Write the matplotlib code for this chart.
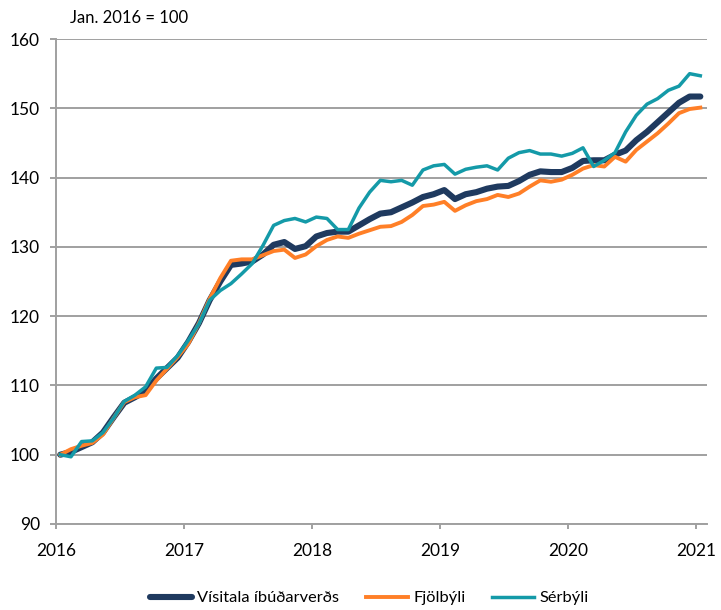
import matplotlib
matplotlib.use("Agg")
import matplotlib.pyplot as plt
import numpy as np

plt.rcParams['font.family'] = ['Lato', 'DejaVu Sans']

year_labels = ["2016", "2017", "2018", "2019", "2020", "2021"]
y_ticks = [90, 100, 110, 120, 130, 140, 150, 160]

visitala = [
    100.0, 100.4, 101.1, 101.8, 103.2, 105.4, 107.5, 108.3, 109.2, 111.0, 112.5, 114.0,
    116.3, 119.0, 122.3, 125.0, 127.4, 127.6, 127.9, 128.9, 130.3, 130.7, 129.7, 130.1,
    131.5, 132.0, 132.2, 132.2, 133.1, 134.0, 134.8, 135.0, 135.7, 136.4, 137.2, 137.6,
    138.2, 136.9, 137.6, 137.9, 138.4, 138.7, 138.8, 139.5, 140.4, 140.9, 140.8, 140.8,
    141.4, 142.4, 142.5, 142.5, 143.3, 143.9, 145.4, 146.6, 148.0, 149.4, 150.8, 151.7,
    151.7,
]
fjolbyli = [
    100.0, 100.8, 101.3, 101.7, 102.9, 105.3, 107.6, 108.3, 108.6, 110.7, 112.4, 114.1,
    116.0, 119.0, 122.5, 125.5, 128.0, 128.2, 128.2, 128.8, 129.4, 129.6, 128.4, 128.9,
    130.1, 131.0, 131.5, 131.3, 131.9, 132.4, 132.9, 133.0, 133.6, 134.6, 135.9, 136.1,
    136.5, 135.2, 136.0, 136.6, 136.9, 137.5, 137.2, 137.7, 138.7, 139.6, 139.4, 139.7,
    140.4, 141.3, 141.8, 141.6, 143.0, 142.3, 144.0, 145.2, 146.4, 147.8, 149.3, 149.9,
    150.1,
]
serbyli = [
    100.0, 99.7, 101.9, 102.0, 103.2, 105.3, 107.7, 108.6, 109.8, 112.5, 112.6, 114.3,
    116.5, 118.9, 122.3, 123.7, 124.7, 126.1, 127.6, 130.2, 133.1, 133.8, 134.1, 133.6,
    134.3, 134.1, 132.5, 132.5, 135.6, 137.9, 139.6, 139.4, 139.6, 138.9, 141.1, 141.7,
    141.9, 140.5, 141.2, 141.5, 141.7, 141.1, 142.8, 143.6, 143.9, 143.4, 143.4, 143.1,
    143.5, 144.3, 141.6, 142.5, 143.6, 146.6, 149.0, 150.6, 151.4, 152.6, 153.2, 155.0,
    154.7,
]
series_names = ["Vísitala íbúðarverðs", "Fjölbýli", "Sérbýli"]

navy = "#1f3a5f"
orange = "#ff7f27"
teal = "#149aa8"
grid_c = "#a0a0a0"

fig = plt.figure(figsize=(7.21, 6.10), dpi=100)
ax = fig.add_axes([0.0777, 0.141, 0.9025, 0.795])

x = np.arange(len(visitala)) + 0.4
ax.plot(x, visitala, color=navy, lw=4.4, label=series_names[0], solid_capstyle='round', zorder=3)
ax.plot(x, fjolbyli, color=orange, lw=2.8, label=series_names[1], zorder=4)
ax.plot(x, serbyli, color=teal, lw=2.5, label=series_names[2], zorder=5)

ax.set_xlim(0, 61)
ax.set_ylim(90, 160)
ax.set_yticks(y_ticks)
ax.set_xticks(np.arange(len(year_labels)) * 12)
ax.set_xticklabels(year_labels)

ax.grid(axis='y', color=grid_c, lw=1.4)
ax.set_axisbelow(True)
for s in ['top', 'right']:
    ax.spines[s].set_visible(False)
for s in ['left', 'bottom']:
    ax.spines[s].set_color(grid_c)
    ax.spines[s].set_linewidth(1.4)
ax.tick_params(axis='y', length=4.5, width=1.4, color=grid_c, labelsize=12.5, pad=7)
ax.tick_params(axis='x', length=3.5, width=1.4, color=grid_c, labelsize=12.5, pad=10)

fig.text(70 / 721, 1 - 18 / 610, "Jan. 2016 = 100", fontsize=12, va='center', ha='left')

leg = fig.legend(loc='center', bbox_to_anchor=(0.512, 1 - 598 / 610), ncol=3, frameon=False,
                 fontsize=11.8, handlelength=2.6, columnspacing=1.6, handletextpad=0.3)

fig.savefig("out.png", dpi=100)
